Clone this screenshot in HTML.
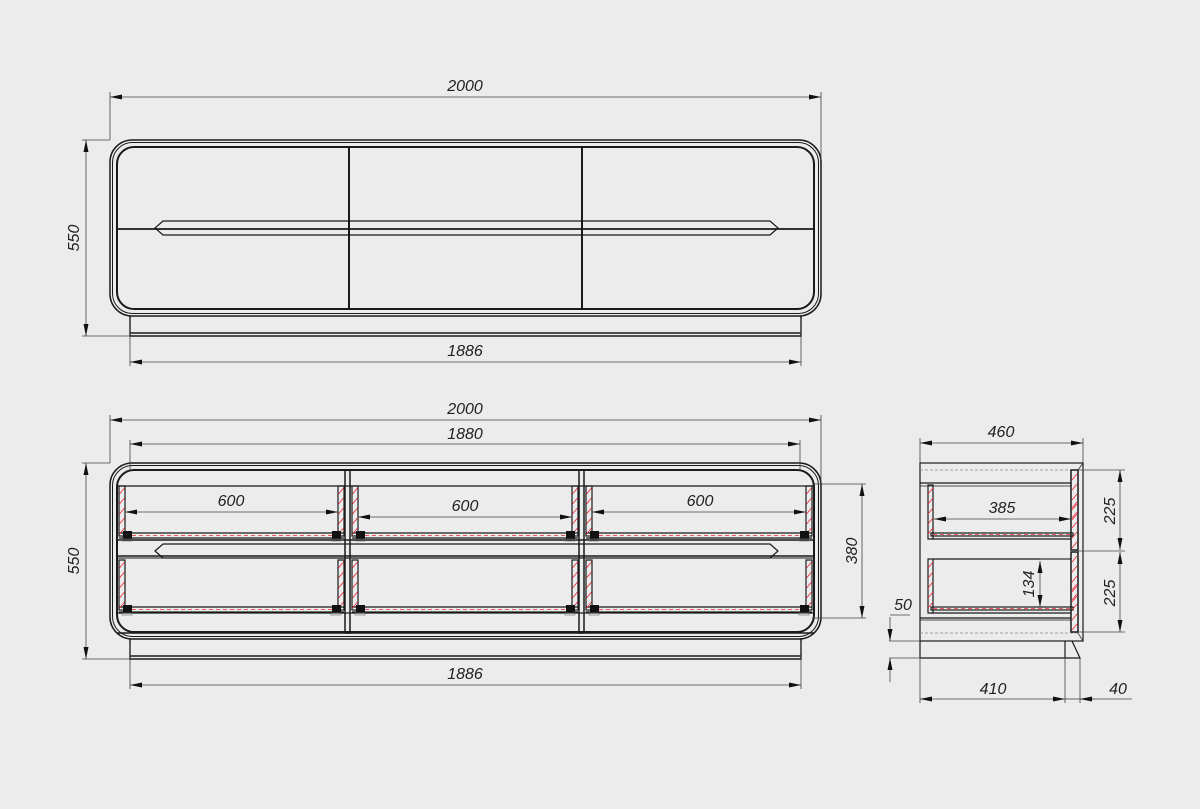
<!DOCTYPE html>
<html><head><meta charset="utf-8"><style>
html,body{margin:0;padding:0;background:#ececec;}
svg{display:block}
text{font-family:"Liberation Sans",sans-serif;font-style:italic;font-size:16px;fill:#222}
</style></head><body>
<svg width="1200" height="809" viewBox="0 0 1200 809" xmlns="http://www.w3.org/2000/svg">
<defs>
<marker id="a" viewBox="0 0 12 6" refX="12" refY="3" markerWidth="12" markerHeight="6" markerUnits="userSpaceOnUse" orient="auto-start-reverse"><path d="M0,0.5 L12,3 L0,5.5z" fill="#111"/></marker>
<g id="shell" fill="none" stroke="#1a1a1a">
<rect x="110" y="140" width="711" height="176" rx="22" stroke-width="1.5"/>
<rect x="112.5" y="142.5" width="706" height="171" rx="20" stroke-width="1"/>
<rect x="117" y="147" width="697" height="162" rx="17" stroke-width="2"/>
<path d="M130,316 V336 H801 V316 M130,333 H801" stroke-width="1.5"/>
</g>
<g id="handle" fill="none" stroke="#1a1a1a" stroke-width="1.2">
<path d="M163,221 H770 L778,228 L770,235 H163 L155,228 Z"/>
</g>
<g id="foot"><rect x="-4" y="-4" width="9" height="8" fill="#111"/><rect x="-5" y="4" width="10" height="2" fill="none" stroke="#666" stroke-width="0.6"/></g>
<g id="hatch" stroke="#e23" stroke-width="0.8" fill="none">
<line x1="0" y1="8" x2="5" y2="2"/><line x1="0" y1="18" x2="5" y2="12"/><line x1="0" y1="28" x2="5" y2="22"/><line x1="0" y1="38" x2="5" y2="32"/><line x1="0" y1="48" x2="5" y2="42"/>
</g>
</defs>

<!-- TOP VIEW -->
<use href="#shell"/>
<g stroke="#1a1a1a" fill="none">
<line x1="349" y1="147" x2="349" y2="309" stroke-width="2"/>
<line x1="582" y1="147" x2="582" y2="309" stroke-width="2"/>
<line x1="117" y1="229" x2="814" y2="229" stroke-width="1.8"/>
</g>
<use href="#handle"/>
<g stroke="#444" stroke-width="0.8" fill="none">
<line x1="110" y1="92" x2="110" y2="140"/><line x1="821" y1="92" x2="821" y2="160"/>
<line x1="110" y1="97" x2="821" y2="97" marker-start="url(#a)" marker-end="url(#a)"/>
<line x1="130" y1="318" x2="130" y2="366"/><line x1="801" y1="318" x2="801" y2="366"/>
<line x1="130" y1="362" x2="801" y2="362" marker-start="url(#a)" marker-end="url(#a)"/>
<line x1="82" y1="140" x2="110" y2="140"/><line x1="82" y1="336" x2="130" y2="336"/>
<line x1="86" y1="140" x2="86" y2="336" marker-start="url(#a)" marker-end="url(#a)"/>
</g>
<text x="465" y="91" text-anchor="middle">2000</text>
<text x="465" y="356" text-anchor="middle">1886</text>
<text transform="translate(79,238) rotate(-90)" text-anchor="middle">550</text>

<!-- FRONT VIEW (open) -->
<use href="#shell" transform="translate(0,323)"/>
<g stroke="#1a1a1a" fill="none">
<rect x="345" y="470" width="5" height="163" stroke-width="1.5"/>
<rect x="579" y="470" width="5" height="163" stroke-width="1.5"/>
<line x1="117" y1="486" x2="814" y2="486" stroke-width="1.2"/>
<line x1="117" y1="540" x2="814" y2="540" stroke-width="1.5"/>
<line x1="117" y1="556" x2="814" y2="556" stroke-width="1.5"/>
<line x1="117" y1="558" x2="814" y2="558" stroke-width="1"/>
<line x1="117" y1="613" x2="814" y2="613" stroke-width="1.2"/>
<line x1="117" y1="633" x2="814" y2="633" stroke-width="1.5"/>
</g>
<g transform="translate(0,323)"><use href="#handle"/></g>
<g id="row">
<g fill="none" stroke="#1a1a1a" stroke-width="1.2">
<rect x="119" y="486" width="6" height="50"/><rect x="338" y="486" width="6" height="50"/>
<rect x="352" y="486" width="6" height="50"/><rect x="572" y="486" width="6" height="50"/>
<rect x="586" y="486" width="6" height="50"/><rect x="806" y="486" width="6" height="50"/>
<line x1="119" y1="533" x2="344" y2="533"/><line x1="119" y1="538" x2="344" y2="538"/>
<line x1="352" y1="533" x2="578" y2="533"/><line x1="352" y1="538" x2="578" y2="538"/>
<line x1="586" y1="533" x2="812" y2="533"/><line x1="586" y1="538" x2="812" y2="538"/>
</g>
<g stroke="#e23" stroke-width="0.7" stroke-dasharray="4,3" fill="none">
<line x1="125" y1="535.5" x2="338" y2="535.5"/><line x1="358" y1="535.5" x2="572" y2="535.5"/><line x1="592" y1="535.5" x2="806" y2="535.5"/>
</g>
<use href="#hatch" x="119.5" y="486"/><use href="#hatch" x="338.5" y="486"/>
<use href="#hatch" x="352.5" y="486"/><use href="#hatch" x="572.5" y="486"/>
<use href="#hatch" x="586.5" y="486"/><use href="#hatch" x="806.5" y="486"/>
<use href="#foot" x="127" y="535"/><use href="#foot" x="336" y="535"/>
<use href="#foot" x="360" y="535"/><use href="#foot" x="570" y="535"/>
<use href="#foot" x="594" y="535"/><use href="#foot" x="804" y="535"/>
</g>
<use href="#row" transform="translate(0,74)"/>
<g stroke="#444" stroke-width="0.8" fill="none">
<line x1="110" y1="415" x2="110" y2="463"/><line x1="821" y1="415" x2="821" y2="483"/>
<line x1="110" y1="420" x2="821" y2="420" marker-start="url(#a)" marker-end="url(#a)"/>
<line x1="130" y1="440" x2="130" y2="470"/><line x1="800" y1="440" x2="800" y2="470"/>
<line x1="130" y1="444" x2="800" y2="444" marker-start="url(#a)" marker-end="url(#a)"/>
<line x1="130" y1="641" x2="130" y2="689"/><line x1="801" y1="641" x2="801" y2="689"/>
<line x1="130" y1="685" x2="801" y2="685" marker-start="url(#a)" marker-end="url(#a)"/>
<line x1="82" y1="463" x2="110" y2="463"/><line x1="82" y1="659" x2="130" y2="659"/>
<line x1="86" y1="463" x2="86" y2="659" marker-start="url(#a)" marker-end="url(#a)"/>
<line x1="125" y1="512" x2="338" y2="512" marker-start="url(#a)" marker-end="url(#a)"/>
<line x1="358" y1="517" x2="572" y2="517" marker-start="url(#a)" marker-end="url(#a)"/>
<line x1="592" y1="512" x2="806" y2="512" marker-start="url(#a)" marker-end="url(#a)"/>
<line x1="812" y1="484" x2="866" y2="484"/><line x1="812" y1="618" x2="866" y2="618"/>
<line x1="862" y1="484" x2="862" y2="618" marker-start="url(#a)" marker-end="url(#a)"/>
</g>
<text x="465" y="414" text-anchor="middle">2000</text>
<text x="465" y="439" text-anchor="middle">1880</text>
<text x="465" y="679" text-anchor="middle">1886</text>
<text x="231" y="506" text-anchor="middle">600</text>
<text x="465" y="511" text-anchor="middle">600</text>
<text x="700" y="506" text-anchor="middle">600</text>
<text transform="translate(79,561) rotate(-90)" text-anchor="middle">550</text>
<text transform="translate(857,551) rotate(-90)" text-anchor="middle">380</text>

<!-- SIDE VIEW -->
<g fill="none" stroke="#1a1a1a" stroke-width="1.2">
<rect x="920" y="463" width="163" height="178"/>
<line x1="920" y1="470" x2="1078" y2="470" stroke="#888" stroke-dasharray="3,2" stroke-width="0.7"/>
<line x1="920" y1="633" x2="1078" y2="633" stroke="#888" stroke-dasharray="3,2" stroke-width="0.7"/>
<line x1="1078" y1="470" x2="1083" y2="463" stroke-width="0.7"/>
<line x1="1078" y1="633" x2="1083" y2="641" stroke-width="0.7"/>
<line x1="920" y1="483" x2="1071" y2="483"/><line x1="920" y1="486" x2="1071" y2="486" stroke-width="0.8"/>
<line x1="920" y1="618" x2="1071" y2="618"/><line x1="920" y1="620" x2="1071" y2="620" stroke-width="0.8"/>
<rect x="1071" y="470" width="7" height="80" stroke-width="1.5"/>
<rect x="1071" y="552" width="7" height="80" stroke-width="1.5"/>
<rect x="928" y="485" width="5" height="54"/>
<rect x="928" y="559" width="5" height="54"/>
<rect x="931" y="533" width="142" height="3"/><line x1="931" y1="539" x2="1071" y2="539"/>
<rect x="931" y="607" width="142" height="3"/><line x1="931" y1="613" x2="1071" y2="613"/>
<line x1="933" y1="559" x2="1071" y2="559"/>
<path d="M920,641 V658 H1080 L1072,641 M1065,641 V658"/>
</g>
<g stroke="#e23" stroke-width="0.7" stroke-dasharray="4,3" fill="none">
<line x1="933" y1="534.5" x2="1071" y2="534.5"/><line x1="933" y1="608.5" x2="1071" y2="608.5"/>
</g>
<use href="#hatch" x="928" y="486"/><use href="#hatch" x="928" y="560"/>
<use href="#hatch" x="1072" y="472"/><use href="#hatch" x="1072" y="500"/>
<use href="#hatch" x="1072" y="554"/><use href="#hatch" x="1072" y="582"/>
<g stroke="#444" stroke-width="0.8" fill="none">
<line x1="920" y1="438" x2="920" y2="463"/><line x1="1083" y1="438" x2="1083" y2="463"/>
<line x1="920" y1="443" x2="1083" y2="443" marker-start="url(#a)" marker-end="url(#a)"/>
<line x1="934" y1="519" x2="1071" y2="519" marker-start="url(#a)" marker-end="url(#a)"/>
<line x1="1078" y1="470" x2="1125" y2="470"/><line x1="1078" y1="551" x2="1125" y2="551"/><line x1="1078" y1="632" x2="1125" y2="632"/>
<line x1="1120" y1="470" x2="1120" y2="550" marker-start="url(#a)" marker-end="url(#a)"/>
<line x1="1120" y1="552" x2="1120" y2="632" marker-start="url(#a)" marker-end="url(#a)"/>
<line x1="1040" y1="559" x2="1070" y2="559"/>
<line x1="1040" y1="561" x2="1040" y2="607" marker-start="url(#a)" marker-end="url(#a)"/>
<line x1="889" y1="641" x2="920" y2="641"/><line x1="889" y1="658" x2="920" y2="658"/>
<line x1="890" y1="615" x2="910" y2="615"/>
<line x1="890" y1="617" x2="890" y2="641" marker-end="url(#a)"/>
<line x1="890" y1="682" x2="890" y2="658" marker-end="url(#a)"/>
<line x1="920" y1="658" x2="920" y2="703"/><line x1="1065" y1="658" x2="1065" y2="703"/><line x1="1080" y1="658" x2="1080" y2="703"/>
<line x1="920" y1="699" x2="1065" y2="699" marker-start="url(#a)" marker-end="url(#a)"/>
<line x1="1065" y1="699" x2="1080" y2="699"/>
<line x1="1080" y1="699" x2="1132" y2="699"/>
<line x1="1095" y1="699" x2="1080" y2="699" marker-end="url(#a)"/>
</g>
<text x="1001" y="437" text-anchor="middle">460</text>
<text x="1002" y="513" text-anchor="middle">385</text>
<text x="993" y="694" text-anchor="middle">410</text>
<text x="1118" y="694" text-anchor="middle">40</text>
<text x="903" y="610" text-anchor="middle">50</text>
<text transform="translate(1115,511) rotate(-90)" text-anchor="middle">225</text>
<text transform="translate(1115,593) rotate(-90)" text-anchor="middle">225</text>
<text transform="translate(1034,584) rotate(-90)" text-anchor="middle">134</text>
</svg>
</body></html>
